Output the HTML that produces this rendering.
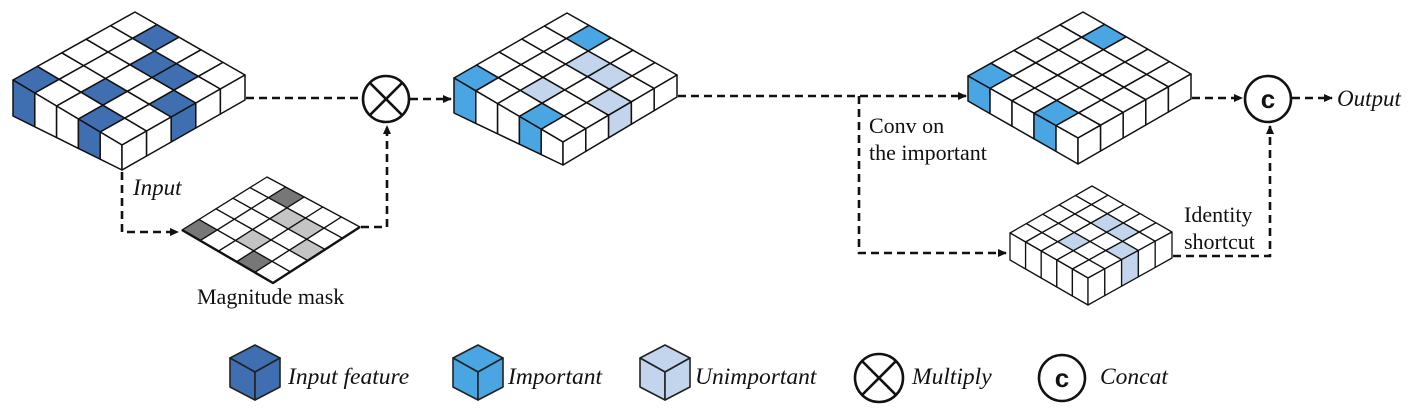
<!DOCTYPE html>
<html><head><meta charset="utf-8">
<style>
html,body{margin:0;padding:0;background:#fff;}
svg{display:block;}
text{font-family:"Liberation Serif",serif;fill:#111;}
</style></head>
<body>
<svg id="s" width="1409" height="419" viewBox="0 0 1409 419" xmlns="http://www.w3.org/2000/svg">
<defs>
<marker id="ah" markerWidth="10" markerHeight="10" refX="8" refY="5" orient="auto" markerUnits="userSpaceOnUse">
<path d="M0,1 L9,5 L0,9 Z" fill="#111"/>
</marker>
</defs>
<g id="blocks"></g>
<g fill="none" stroke="#111" stroke-width="2.6" stroke-dasharray="8,5">
<path d="M246,98 L362,98" />
<path d="M122,172 L122,232 L178,232" marker-end="url(#ah)"/>
<path d="M361,227 L387,227 L387,126" marker-end="url(#ah)"/>
<path d="M410,99 L451,99" marker-end="url(#ah)"/>
<path d="M678,96 L966,96" marker-end="url(#ah)"/>
<path d="M859,96 L859,253 L1006,253" marker-end="url(#ah)"/>
<path d="M1192,98 L1242,98" marker-end="url(#ah)"/>
<path d="M1292,98 L1332,98" marker-end="url(#ah)"/>
<path d="M1173,256 L1270,256 L1270,126" marker-end="url(#ah)"/>
</g>
<g fill="none" stroke="#111" stroke-width="2.6">
<circle cx="386" cy="99" r="23" fill="#fff"/>
<path d="M370,83 L402,115 M402,83 L370,115"/>
<circle cx="1268" cy="99" r="23" fill="#fff"/>
<circle cx="879" cy="378" r="24" fill="#fff"/>
<path d="M862,361 L896,395 M896,361 L862,395"/>
<circle cx="1062" cy="378" r="23" fill="#fff"/>
</g>
<text x="1268" y="108" font-size="26" text-anchor="middle" style="font-family:'Liberation Sans',sans-serif;font-weight:bold">c</text>
<text x="1062" y="387" font-size="26" text-anchor="middle" style="font-family:'Liberation Sans',sans-serif;font-weight:bold">c</text>
<g id="legend"></g>
<text x="133" y="195" font-size="23" font-style="italic">Input</text>
<text x="197" y="304" font-size="22">Magnitude mask</text>
<text x="869" y="133" font-size="22">Conv on</text>
<text x="869" y="160" font-size="22">the important</text>
<text x="1184" y="222" font-size="22">Identity</text>
<text x="1184" y="249" font-size="22">shortcut</text>
<text x="1337" y="106" font-size="23" font-style="italic">Output</text>
<text x="288" y="384" font-size="23.5" font-style="italic">Input feature</text>
<text x="508" y="384" font-size="23.5" font-style="italic">Important</text>
<text x="695" y="384" font-size="23.5" font-style="italic">Unimportant</text>
<text x="912" y="384" font-size="23.5" font-style="italic">Multiply</text>
<text x="1100" y="384" font-size="23.5" font-style="italic">Concat</text>
</svg>
<script>
(function(){
var NS="http://www.w3.org/2000/svg";
var g=document.getElementById("blocks");
function poly(pts,fill,sw){var p=document.createElementNS(NS,"polygon");
p.setAttribute("points",pts.map(function(q){return q[0].toFixed(1)+","+q[1].toFixed(1)}).join(" "));
p.setAttribute("fill",fill);p.setAttribute("stroke","#111");p.setAttribute("stroke-width",sw||1.4);
p.setAttribute("stroke-linejoin","round");g.appendChild(p);}
function lerp(a,b,t){return [a[0]+(b[0]-a[0])*t,a[1]+(b[1]-a[1])*t];}
function block(c,cells,sw){
 var N=5;
 function P(u,v){var a=lerp(c.L,c.F,u/N),b=lerp(c.T,c.R,u/N);return lerp(a,b,v/N);}
 for(var u=0;u<N;u++)for(var v=0;v<N;v++){
  var k=u+","+v;var f=cells[k]||"#fff";
  poly([P(u,v),P(u+1,v),P(u+1,v+1),P(u,v+1)],f,sw);}
 if(c.Lb){
  for(var u=0;u<N;u++){var k=u+",0";var f=cells[k]||"#fff";
   poly([P(u,0),P(u+1,0),lerp(c.Lb,c.Fb,(u+1)/N),lerp(c.Lb,c.Fb,u/N)],f,sw);}
  for(var v=0;v<N;v++){var k=(N-1)+","+v;var f=cells[k]||"#fff";
   poly([P(N,v),P(N,v+1),lerp(c.Fb,c.Rb,(v+1)/N),lerp(c.Fb,c.Rb,v/N)],f,sw);}
 }
}
var IN="#3f6fb0",IM="#4aa6e2",UN="#c3d5ec",DK="#777",LG="#c4c4c4";
var b1={};["0,0","3,0","4,2","2,1","2,3","3,3","1,4"].forEach(function(k){b1[k]=IN;});
block({L:[13,80],T:[135,12],R:[245,75],F:[122,145],Lb:[13,116],Fb:[122,170],Rb:[245,100]},b1,1.5);
var m={"0,0":DK,"3,0":DK,"1,4":DK,"2,1":LG,"2,3":LG,"3,3":LG,"4,2":LG};
block({L:[182,230],T:[267,177],R:[360,227],F:[273,283]},m,1.3);
var p=document.createElementNS(NS,"path");p.setAttribute("d","M182,230 L273,283 L360,227");p.setAttribute("stroke","#111");p.setAttribute("stroke-width","2.4");p.setAttribute("fill","none");g.appendChild(p);
var b2={"0,0":IM,"3,0":IM,"1,4":IM,"2,1":UN,"2,3":UN,"3,3":UN,"4,2":UN};
block({L:[454,78],T:[567,13],R:[677,75],F:[563,142],Lb:[454,113],Fb:[563,165],Rb:[677,97]},b2,1.5);
var b3={"0,0":IM,"3,0":IM,"1,4":IM};
block({L:[968,76],T:[1083,12],R:[1191,74],F:[1078,138],Lb:[968,101],Fb:[1078,164],Rb:[1191,99]},b3,1.5);
var b4={"2,1":UN,"2,3":UN,"3,3":UN,"4,2":UN};
block({L:[1010,233],T:[1092,186],R:[1172,232],F:[1088,278],Lb:[1010,260],Fb:[1088,305],Rb:[1172,258]},b4,1.3);
var lg=document.getElementById("legend");
function cube(x,col){
 var cx=x+25,t=345,u=358,m=372,l=387,b=400;
 var pts=[[[x,u],[cx,t],[x+50,u],[cx,m]],[[x,u],[cx,m],[cx,b],[x,l]],[[cx,m],[x+50,u],[x+50,l],[cx,b]]];
 pts.forEach(function(ps){var q=document.createElementNS(NS,"polygon");
  q.setAttribute("points",ps.map(function(a){return a.join(",")}).join(" "));
  q.setAttribute("fill",col);q.setAttribute("stroke","#222");q.setAttribute("stroke-width","1.6");q.setAttribute("stroke-linejoin","round");lg.appendChild(q);});
}
cube(230,IN);cube(453,IM);cube(640,UN);
})();
</script>
</body></html>
